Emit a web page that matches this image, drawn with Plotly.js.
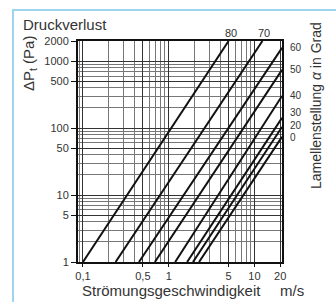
<!DOCTYPE html>
<html><head><meta charset="utf-8">
<script src="https://cdn.plot.ly/plotly-3.0.1.min.js"></script>
<style>body{margin:0;background:#fff;position:relative;overflow:hidden}#frame{position:absolute;left:12px;top:9px;width:340px;height:310px;border-left:2px solid #9fd4ef;border-top:2px solid #9fd4ef;pointer-events:none}</style>
</head><body>
<div id="plot" style="width:336px;height:302px"></div>
<div id="frame"></div>
<script>
// Lamellenstellung (angle, degrees) for each line
const angles = ['80','70','60','50','40','30','20','0'];
// start point of each line (velocity m/s at pressure drop 1 Pa)
const vStart = [0.1, 0.24, 0.45, 0.69, 1.19, 1.64, 1.92, 2.26];
const pStart = [1, 1, 1, 1, 1, 1, 1, 1];
// end point of each line (top edge or right edge of chart)
const vEnd = [5.0, 12.4, 21, 21, 21, 21, 21, 21];
const pEnd = [2000, 2000, 1580, 741, 302, 142, 104, 74];
// tick labels
const xTickVals = [0.1, 0.5, 1, 5, 10, 20];
const xTickText = ['0,1', '0,5', '1', '5', '10', '20'];
const yTickVals = [1, 5, 10, 50, 100, 500, 1000, 2000];
const yTickText = ['1', '5', '10', '50', '100', '500', '1000', '2000'];

const W = 336, H = 302, L = 78, R = 282, T = 41, B = 262;
const px = x => (x - L) / (R - L);
const py = y => (B - y) / (B - T);
const txt = '#333';
const FONT = 'Liberation Sans, Arial, sans-serif';
// small vertical nudges (px) so the crowded right-hand labels do not collide
const labelNudge = {'30': 5, '20': 1, '0': -1};

const traces = angles.map((a, i) => ({
  x: [vStart[i], vEnd[i]], y: [pStart[i], pEnd[i]],
  mode: 'lines', type: 'scatter', name: a,
  line: {color: '#111', width: 2}, hoverinfo: 'skip', showlegend: false
}));

const ann = [];
angles.forEach((a, i) => {
  if (pEnd[i] >= 2000) {
    ann.push({x: Math.log10(vEnd[i]), y: Math.log10(pEnd[i]), xref: 'x', yref: 'y', text: a,
      showarrow: false, xanchor: 'center', yanchor: 'bottom', yshift: 0, xshift: 2,
      font: {size: 11, color: txt, family: FONT}});
  } else {
    ann.push({x: 1, y: Math.log10(pEnd[i]), xref: 'paper', yref: 'y', text: a,
      showarrow: false, xanchor: 'left', yanchor: 'middle', xshift: 6, yshift: labelNudge[a] || 0,
      font: {size: 10, color: txt, family: FONT}});
  }
});
ann.push({x: px(21), y: py(24), xref: 'paper', yref: 'paper', text: 'Druckverlust', showarrow: false,
  xanchor: 'left', yanchor: 'middle', font: {size: 15, color: txt, family: FONT}});
ann.push({x: px(30), y: py(64), xref: 'paper', yref: 'paper', text: 'ΔP<sub>t</sub> (Pa)', showarrow: false,
  textangle: -90, xanchor: 'center', yanchor: 'middle', font: {size: 15, color: txt, family: FONT}});
ann.push({x: px(80), y: py(290), xref: 'paper', yref: 'paper', text: 'Strömungsgeschwindigkeit', showarrow: false,
  xanchor: 'left', yanchor: 'middle', font: {size: 15, color: txt, family: FONT}});
ann.push({x: px(278), y: py(290), xref: 'paper', yref: 'paper', text: 'm/s', showarrow: false,
  xanchor: 'left', yanchor: 'middle', font: {size: 15, color: txt, family: FONT}});
ann.push({x: px(316), y: py(106), xref: 'paper', yref: 'paper', text: 'Lamellenstellung <i>α</i> in Grad', showarrow: false,
  textangle: -90, xanchor: 'center', yanchor: 'middle', font: {size: 14, color: txt, family: FONT}});

const layout = {
  width: W, height: H,
  margin: {l: L, r: W - R, t: T, b: H - B, pad: 0},
  paper_bgcolor: '#fff', plot_bgcolor: '#fff',
  font: {family: FONT, color: txt},
  xaxis: {type: 'log', range: [-1.058, 1.322], tickvals: xTickVals, ticktext: xTickText,
    showgrid: true, gridcolor: '#333', gridwidth: 1,
    minor: {showgrid: true, gridcolor: '#777', gridwidth: 1, dtick: 'D1', ticks: ''},
    showline: true, linecolor: '#111', linewidth: 2, mirror: true,
    ticks: 'outside', ticklen: 3, tickcolor: '#111',
    tickfont: {size: 11, color: txt}, zeroline: false, fixedrange: true},
  yaxis: {type: 'log', range: [0, Math.log10(2000)], tickvals: yTickVals, ticktext: yTickText,
    showgrid: true, gridcolor: '#333', gridwidth: 1,
    minor: {showgrid: true, gridcolor: '#777', gridwidth: 1, dtick: 'D1', ticks: ''},
    showline: true, linecolor: '#111', linewidth: 2, mirror: true,
    ticks: 'outside', ticklen: 5, tickcolor: '#111',
    tickfont: {size: 11, color: txt}, zeroline: false, fixedrange: true},
  annotations: ann,
  showlegend: false
};
Plotly.newPlot('plot', traces, layout, {staticPlot: true, displayModeBar: false});
</script>
</body></html>
